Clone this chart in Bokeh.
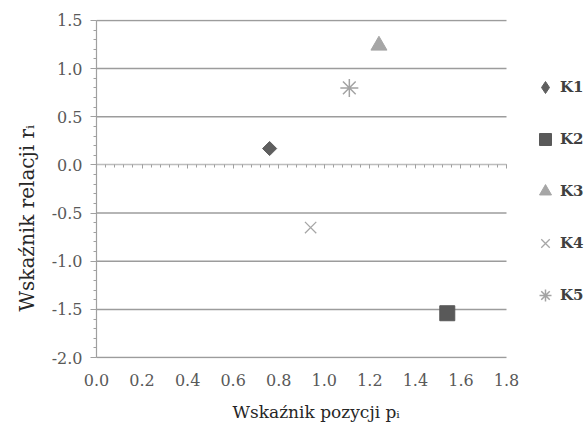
import math
from bokeh.plotting import figure
from bokeh.models import (Range1d, LinearAxis, FixedTicker, Legend, Title,
                          LegendItem, NumeralTickFormatter, CustomJSTickFormatter)
from bokeh.embed import file_html
from bokeh.resources import INLINE

# ---- data ----
series = ["K1", "K2", "K3", "K4", "K5"]
p_vals = [0.76, 1.54, 1.24, 0.94, 1.11]
r_vals = [0.17, -1.54, 1.24, -0.65, 0.80]
x_ticks = [0.0, 0.2, 0.4, 0.6, 0.8, 1.0, 1.2, 1.4, 1.6, 1.8]
y_ticks = [-2.0, -1.5, -1.0, -0.5, 0.0, 0.5, 1.0, 1.5]
x_title = "Wskaźnik pozycji pᵢ"
y_title = "Wskaźnik relacji rᵢ"

markers = ["square", "square", "triangle", "x", "asterisk"]
legend_markers = ["diamond", "square", "triangle", "x", "asterisk"]
angles = [math.pi / 4, 0, 0, 0, 0]
sizes = [10, 15, 16, 16, 18]
fills = ["#5f5f5f", "#595959", "#a6a6a6", "#a6a6a6", "#a6a6a6"]
lines = ["#5f5f5f", "#595959", "#a6a6a6", "#a6a6a6", "#a3a3a3"]
lwidths = [1, 1, 1, 1.3, 1.5]

FONT = "DejaVu Serif"
W, H = 586, 434
LEFT, RIGHT, TOP, BOTTOM = 96, 2, 19, 76
plot_w = 410                      # pixel width of the 0..1.8 data area
frame_w = W - LEFT - RIGHT
x_end = x_ticks[-1] * frame_w / plot_w
pad = 0.01

p = figure(width=W, height=H,
           x_range=Range1d(x_ticks[0], x_end),
           y_range=Range1d(y_ticks[0] - pad, y_ticks[-1] + pad),
           output_backend="svg", toolbar_location=None,
           min_border_left=LEFT, min_border_right=RIGHT,
           min_border_top=TOP, min_border_bottom=BOTTOM)
p.outline_line_color = None
p.xgrid.visible = False
p.ygrid.visible = False

# horizontal gridlines limited to the 0..1.8 data area
gy = [t for t in y_ticks if t != 0]
p.segment(x0=[x_ticks[0]] * len(gy), x1=[x_ticks[-1]] * len(gy), y0=gy, y1=gy,
          line_color="#9c9c9c", line_width=1.5, level="underlay")

# y axis
y_minor = [round(-2.0 + 0.1 * i, 1) for i in range(36)]
ya = p.yaxis[0]
ya.bounds = (y_ticks[0], y_ticks[-1])
ya.ticker = FixedTicker(ticks=y_ticks, minor_ticks=y_minor)
ya.formatter = NumeralTickFormatter(format="0.0")
ya.axis_line_color = "#a0a0a0"
ya.axis_line_width = 1.2
ya.major_tick_line_color = "#a0a0a0"
ya.minor_tick_line_color = "#a0a0a0"
ya.major_tick_out = 6
ya.major_tick_in = 0
ya.minor_tick_out = 3
ya.minor_tick_in = 0
ya.major_label_text_font = FONT
ya.major_label_text_font_size = "16px"
ya.major_label_text_color = "#595959"
ya.major_label_standoff = 8

# bottom labels axis
xa = p.xaxis[0]
xa.ticker = FixedTicker(ticks=x_ticks)
xa.formatter = NumeralTickFormatter(format="0.0")
xa.axis_line_color = None
xa.major_tick_line_color = None
xa.minor_tick_line_color = None
xa.major_tick_out = 0
xa.minor_tick_out = 0
xa.major_tick_in = 0
xa.minor_tick_in = 0
xa.major_label_text_font = FONT
xa.major_label_text_font_size = "16px"
xa.major_label_text_color = "#595959"
xa.major_label_standoff = 15

# axis crossing at y = 0 (ticks pointing down)
x_minor = [round(0.04 * i, 2) for i in range(46)]
zero = LinearAxis(fixed_location=0, bounds=(x_ticks[0], x_ticks[-1]),
                  ticker=FixedTicker(ticks=x_ticks, minor_ticks=x_minor),
                  formatter=CustomJSTickFormatter(code="return ''"),
                  axis_line_color="#bdbdbd", axis_line_width=1.5,
                  major_tick_out=4, major_tick_in=0, minor_tick_out=3, minor_tick_in=0,
                  major_tick_line_color="#a0a0a0", minor_tick_line_color="#a0a0a0",
                  major_label_standoff=0)
p.add_layout(zero, "below")

items = []
for i, name in enumerate(series):
    p.scatter(x=p_vals[i:i + 1], y=r_vals[i:i + 1], marker=markers[i], size=sizes[i],
              angle=angles[i], fill_color=fills[i], line_color=lines[i],
              line_width=lwidths[i])
    lr = p.scatter(x=p_vals[i:i + 1], y=r_vals[i:i + 1], marker=legend_markers[i],
                   size=sizes[i], fill_color=fills[i], line_color=lines[i],
                   line_width=lwidths[i], visible=False)
    items.append(LegendItem(label=name, renderers=[lr]))

legend = Legend(items=items, location=(434, 48), glyph_width=30, glyph_height=30,
                label_height=30, spacing=22, padding=0, margin=0, label_standoff=0,
                background_fill_alpha=0, border_line_color=None,
                label_text_font=FONT, label_text_font_style="bold",
                label_text_font_size="15px", label_text_color="#404040",
                label_text_baseline="middle")
p.add_layout(legend)

# axis titles, positioned along their axes
TC = "#262626"
p.add_layout(Title(text=x_title, align="left", offset=136, standoff=23,
                   text_font=FONT, text_font_size="17px", text_font_style="normal",
                   text_color=TC), "below")
p.add_layout(Title(text=y_title, align="left", offset=47, standoff=20,
                   text_font=FONT, text_font_size="20px", text_font_style="normal",
                   text_color=TC), "left")

open("out.html", "w").write(file_html(p, INLINE))
